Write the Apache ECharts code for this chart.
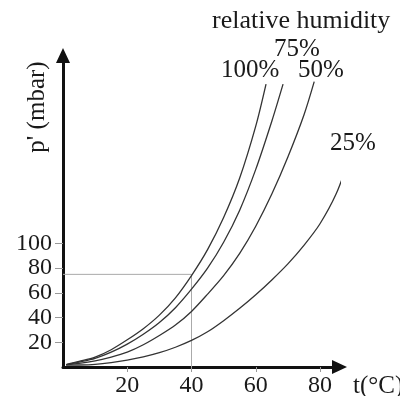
<!DOCTYPE html>
<html>
<head>
<meta charset="utf-8">
<script src="https://cdn.jsdelivr.net/npm/echarts@6/dist/echarts.min.js"></script>
<style>
html,body{margin:0;padding:0;background:#fff;}
#chart{width:400px;height:396px;}
</style>
</head>
<body>
<div id="chart"></div>
<script>
// Data: [temperature °C, vapour pressure mbar]
const rh100 = [[1,2],[5,4.5],[10,8],[15,14],[20,22],[25,31],[30,42],[35,56],[40,74],[45,95],[50,121],[55,153],[60,195],[63.2,229]];
const rh75  = [[1,2],[5,4],[10,7],[15,12],[20,18.5],[25,26.5],[30,36],[35,48],[40,63],[45,80],[50,101],[55,127],[60,160],[65,199],[68.5,229]];
const rh50  = [[1,2],[5,3],[10,5],[15,8],[20,12],[25,18],[30,25.5],[35,34],[40,45],[45,59],[50,74],[55,92],[60,114],[65,140],[70,170],[75,204],[78.2,231]];
const rh25  = [[1,1.5],[5,1.6],[10,2.2],[15,3.6],[20,5.6],[25,8.2],[30,11.6],[35,16],[40,21.5],[45,28.5],[50,37.5],[55,47.5],[60,58.5],[65,70.5],[70,83.5],[75,98.5],[80,116],[85,140],[89,168]];
const guide = [[0,75],[40,75],[40,0]];
const xTicks = [20,40,60,80];
const yTicks = [20,40,60,80,100];
const curveNames = ['100%','75%','50%','25%'];

const FONT = 'Liberation Serif';
const chart = echarts.init(document.getElementById('chart'), null, {renderer:'canvas'});

function curve(name, data){
  return {
    name: name, type:'line', data: data, smooth: 0.3, symbol:'none', clip:false,
    lineStyle:{color:'#333', width:1.3}, silent:true, z:3
  };
}

chart.setOption({
  animation:false,
  backgroundColor:'#ffffff',
  grid:{left:63, top:55.5, right:60.5, bottom:29, containLabel:false, outerBoundsMode:'none'},
  xAxis:{
    type:'value', min:0, max:86.07,
    axisLine:{show:true, symbol:['none','triangle'], symbolSize:[14,15],
      lineStyle:{color:'#111', width:3}},
    axisTick:{show:true, customValues:xTicks, length:5, inside:false, lineStyle:{color:'#999', width:1}},
    axisLabel:{show:true, customValues:xTicks, showMinLabel:true, showMaxLabel:true, hideOverlap:false,
      margin:10, fontFamily:FONT, fontSize:24, lineHeight:18, color:'#1a1a1a'},
    splitLine:{show:false}
  },
  yAxis:{
    type:'value', min:0, max:252.2,
    axisLine:{show:true, symbol:['none','triangle'], symbolSize:[14,15],
      lineStyle:{color:'#111', width:3}},
    axisTick:{show:true, customValues:yTicks, length:8, inside:false, lineStyle:{color:'#999', width:1}},
    axisLabel:{show:true, customValues:yTicks, showMinLabel:true, showMaxLabel:true, hideOverlap:false,
      margin:11, fontFamily:FONT, fontSize:24, lineHeight:18, color:'#1a1a1a'},
    splitLine:{show:false}
  },
  series:[
    {type:'line', data:guide, symbol:'none', lineStyle:{color:'#aaa', width:1}, silent:true, z:2},
    curve(curveNames[0], rh100),
    curve(curveNames[1], rh75),
    curve(curveNames[2], rh50),
    curve(curveNames[3], rh25)
  ],
  graphic:[
    {type:'text', x:212, y:21, style:{text:'relative humidity', font:'26px '+FONT, fill:'#1a1a1a', verticalAlign:'middle'}},
    {type:'text', x:274, y:49, style:{text:curveNames[1], font:'25px '+FONT, fill:'#1a1a1a', verticalAlign:'middle'}},
    {type:'text', x:221, y:70, style:{text:curveNames[0], font:'25px '+FONT, fill:'#1a1a1a', verticalAlign:'middle'}},
    {type:'text', x:298, y:70, style:{text:curveNames[2], font:'25px '+FONT, fill:'#1a1a1a', verticalAlign:'middle'}},
    {type:'text', x:330, y:143, style:{text:curveNames[3], font:'25px '+FONT, fill:'#1a1a1a', verticalAlign:'middle'}},
    {type:'text', x:353, y:386, style:{text:'t(°C)', font:'25px '+FONT, fill:'#1a1a1a', verticalAlign:'middle'}},
    {type:'text', x:37, y:107, rotation:Math.PI/2, style:{text:"p' (mbar)", font:'25px '+FONT, fill:'#1a1a1a', align:'center', verticalAlign:'middle'}}
  ]
});
</script>
</body>
</html>
